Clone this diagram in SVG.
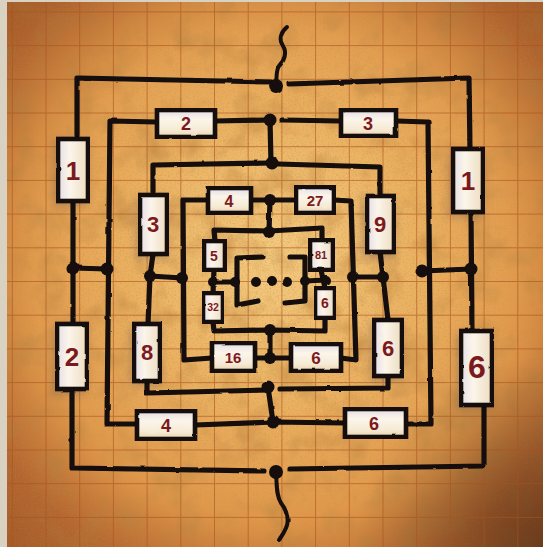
<svg xmlns="http://www.w3.org/2000/svg" width="543" height="547" viewBox="0 0 543 547">
<defs>
<radialGradient id="bg" cx="0.5" cy="0.47" r="0.62">
<stop offset="0" stop-color="#f3cb80"/>
<stop offset="0.45" stop-color="#eab060"/>
<stop offset="0.8" stop-color="#df9548"/>
<stop offset="1" stop-color="#c9773a"/>
</radialGradient>
<radialGradient id="edge" cx="0.5" cy="0.5" r="0.72">
<stop offset="0.62" stop-color="#6a2c0c" stop-opacity="0"/>
<stop offset="1" stop-color="#6a2c0c" stop-opacity="0.4"/>
</radialGradient>
<radialGradient id="br" cx="1" cy="1" r="0.35">
<stop offset="0" stop-color="#3a1e10" stop-opacity="0.55"/>
<stop offset="1" stop-color="#3a1e10" stop-opacity="0"/>
</radialGradient>
<linearGradient id="boxg" x1="0" y1="0" x2="0" y2="1">
<stop offset="0" stop-color="#e4dce4"/>
<stop offset="0.35" stop-color="#fbf5ea"/>
<stop offset="0.75" stop-color="#f6ead4"/>
<stop offset="1" stop-color="#e8d2b0"/>
</linearGradient>
<linearGradient id="boxgv" x1="0" y1="0" x2="1" y2="0">
<stop offset="0" stop-color="#e6dee6"/>
<stop offset="0.4" stop-color="#fbf5ea"/>
<stop offset="1" stop-color="#eedcc0"/>
</linearGradient>
<filter id="tex" x="0" y="0" width="100%" height="100%">
<feTurbulence type="fractalNoise" baseFrequency="0.03" numOctaves="4" seed="7"/>
<feColorMatrix type="matrix" values="0 0 0 0 0.55  0 0 0 0 0.26  0 0 0 0 0.06  0 0 0 1.8 -0.85"/>
</filter>
<filter id="speck" x="0" y="0" width="100%" height="100%">
<feTurbulence type="fractalNoise" baseFrequency="0.6" numOctaves="2" seed="2"/>
<feColorMatrix type="matrix" values="0 0 0 0 0.6  0 0 0 0 0.3  0 0 0 0 0.08  0 0 0 2.2 -1.05"/>
</filter>
<filter id="rough" x="-5%" y="-5%" width="110%" height="110%">
<feTurbulence type="fractalNoise" baseFrequency="0.08" numOctaves="2" seed="4" result="n"/>
<feDisplacementMap in="SourceGraphic" in2="n" scale="2.2" xChannelSelector="R" yChannelSelector="G"/>
</filter>
<filter id="shadow" x="-50%" y="-50%" width="200%" height="200%">
<feGaussianBlur stdDeviation="5"/>
</filter>
<style>
.grid{stroke:#a9531f;stroke-width:1;opacity:0.6}
.w{fill:none;stroke:#121010;stroke-width:5.2;stroke-linecap:round;stroke-linejoin:round}
.sq{fill:none;stroke:#121010;stroke-width:4;stroke-linecap:round}
.d{fill:#121010}
.box{fill:url(#boxg);stroke:#121010;stroke-width:4.6;stroke-linejoin:miter}
.boxv{fill:url(#boxgv);stroke:#121010;stroke-width:4.6;stroke-linejoin:miter}
.sh{fill:#5a5050;opacity:0.35;filter:url(#shadow)}
.t{font-family:"Liberation Sans","DejaVu Sans",sans-serif;font-weight:bold;fill:#7b1a1e;text-anchor:middle}
</style>
</defs>

<!-- background -->
<rect x="0" y="0" width="543" height="547" fill="#d9d2c3"/>
<rect x="7" y="2" width="536" height="545" fill="url(#bg)"/>
<rect x="7" y="2" width="536" height="545" filter="url(#tex)"/>
<rect x="7" y="2" width="536" height="545" filter="url(#speck)" opacity="0.6"/>
<rect x="7" y="2" width="536" height="545" fill="url(#edge)"/>
<rect x="7" y="2" width="536" height="545" fill="url(#br)"/>
<g class="grid">
<path d="M12.3 2V547M46 2V547M79.7 2V547M113.4 2V547M147.1 2V547M180.8 2V547M214.5 2V547M248.2 2V547M281.9 2V547M315.6 2V547M349.3 2V547M383 2V547M416.7 2V547M450.4 2V547M484.1 2V547M517.8 2V547"/>
<path d="M7 11.9H543M7 45.6H543M7 79.3H543M7 113H543M7 146.7H543M7 180.4H543M7 214.1H543M7 247.8H543M7 281.5H543M7 315.2H543M7 348.9H543M7 382.6H543M7 416.3H543M7 450H543M7 483.7H543M7 517.4H543"/>
</g>

<!-- box shadows -->
<g>
<rect class="sh" x="54" y="140" width="34" height="66"/>
<rect class="sh" x="53" y="326" width="34" height="68"/>
<rect class="sh" x="449" y="151" width="34" height="66"/>
<rect class="sh" x="457" y="333" width="35" height="76"/>
<rect class="sh" x="136" y="197" width="31" height="62"/>
<rect class="sh" x="130" y="326" width="30" height="60"/>
<rect class="sh" x="363" y="198" width="31" height="60"/>
<rect class="sh" x="370" y="322" width="32" height="60"/>
</g>

<!-- connectors -->
<g id="connectors" filter="url(#rough)">
<!-- outer loop -->
<path class="w" d="M77 135 L77 78 L271 82"/>
<path class="w" d="M289 84 L469 78 L470 150"/>
<path class="w" d="M73 201 L73 324"/>
<path class="w" d="M72 389 L72 468 L264 471"/>
<path class="w" d="M290 469 L484 466 L484 405"/>
<path class="w" d="M472 331 L471 212"/>
<path class="w" d="M73 268 L107 269"/>
<path class="w" d="M422 271 L471 269"/>
<path class="sq" d="M287 27 C280 33 279 40 283 46 C287 52 285 60 279 66 C276 70 277 76 276 84"/>
<path class="sq" d="M276 473 C277 485 276 495 281 503 C288 512 289 522 286 528 C284 533 281 537 279 540"/>
<!-- loop 2 -->
<path class="w" d="M157 122 L110 121 L107 424 L137 424"/>
<path class="w" d="M215 121 L270 120"/>
<path class="w" d="M282 120 L341 121"/>
<path class="w" d="M396 121 L428 122 L431 424 L406 424"/>
<path class="w" d="M345 423 L273 422 L195 425"/>
<!-- loop 3 -->
<path class="w" d="M153 195 L153 165 L270 163"/>
<path class="w" d="M278 164 L380 167 L380 196"/>
<path class="w" d="M153 254 L150 276 L148 324"/>
<path class="w" d="M147 381 L147 393 L268 390"/>
<path class="w" d="M280 389 L388 388 L388 376"/>
<path class="w" d="M380 252 L383 277 L388 320"/>
<path class="w" d="M150 276 L182 278"/>
<path class="w" d="M270 120 L271 163"/>
<path class="w" d="M268 387 L273 422"/>
<!-- loop 4 -->
<path class="w" d="M208 200 L183 200 L184 360 L212 358"/>
<path class="w" d="M251 200 L270 200 L296 200"/>
<path class="w" d="M334 200 L351 201 L356 360 L341 358"/>
<path class="w" d="M291 358 L270 358 L255 358"/>
<path class="w" d="M270 200 L269 232"/>
<path class="w" d="M353 277 L383 277"/>
<path class="w" d="M270 330 L270 358"/>
<!-- loop 5 -->
<path class="w" d="M215 241 L214 230 L269 231 L322 228 L322 240"/>
<path class="w" d="M214 270 L213 293"/>
<path class="w" d="M213 322 L214 331 L270 330 L325 331 L325 318"/>
<path class="w" d="M321 270 L325 288"/>
<path class="w" d="M213 282 L237 282"/>
<path class="w" d="M263 257 L237 258 L237 305 L258 301"/>
<path class="w" d="M290 257 L305 257 L305 301 L285 303"/>
<path class="w" d="M305 281 L326 280"/>
<!-- junction dots -->
<circle class="d" cx="276" cy="86" r="7"/>
<circle class="d" cx="276" cy="472" r="7"/>
<circle class="d" cx="73" cy="268" r="6.5"/>
<circle class="d" cx="107" cy="269" r="6.5"/>
<circle class="d" cx="422" cy="271" r="6.5"/>
<circle class="d" cx="471" cy="269" r="6.5"/>
<circle class="d" cx="270" cy="120" r="6.5"/>
<circle class="d" cx="272" cy="163" r="6.5"/>
<circle class="d" cx="273" cy="422" r="6.5"/>
<circle class="d" cx="268" cy="387" r="6.5"/>
<circle class="d" cx="150" cy="276" r="6"/>
<circle class="d" cx="182" cy="278" r="6"/>
<circle class="d" cx="383" cy="277" r="6"/>
<circle class="d" cx="353" cy="277" r="6"/>
<circle class="d" cx="270" cy="200" r="6"/>
<circle class="d" cx="269" cy="232" r="6"/>
<circle class="d" cx="270" cy="330" r="6"/>
<circle class="d" cx="270" cy="358" r="6"/>
<circle class="d" cx="213" cy="282" r="5"/>
<circle class="d" cx="235" cy="282" r="5"/>
<circle class="d" cx="305" cy="281" r="5"/>
<circle class="d" cx="326" cy="280" r="5"/>
<circle class="d" cx="256" cy="282" r="5"/>
<circle class="d" cx="272" cy="281" r="5"/>
<circle class="d" cx="287" cy="282" r="5"/>
</g>

<!-- outer boxes -->
<g id="n_o1l"><rect class="boxv" x="58" y="139" width="30" height="62" filter="url(#rough)"/><text class="t" x="73" y="180" font-size="26">1</text></g>
<g id="n_o2l"><rect class="boxv" x="57" y="324" width="30" height="65" filter="url(#rough)"/><text class="t" x="72" y="366" font-size="26">2</text></g>
<g id="n_o1r"><rect class="boxv" x="453" y="149" width="30" height="63" filter="url(#rough)"/><text class="t" x="468" y="190" font-size="26">1</text></g>
<g id="n_o6r"><rect class="boxv" x="461" y="331" width="31" height="74" filter="url(#rough)"/><text class="t" x="477" y="378" font-size="32">6</text></g>
<!-- loop 2 boxes -->
<g id="n_l2_2"><rect class="box" x="157" y="110" width="58" height="27" filter="url(#rough)"/><text class="t" x="186" y="130" font-size="18">2</text></g>
<g id="n_l2_3"><rect class="box" x="341" y="110" width="55" height="26" filter="url(#rough)"/><text class="t" x="368" y="130" font-size="18">3</text></g>
<g id="n_l2_4"><rect class="box" x="137" y="411" width="58" height="28" filter="url(#rough)"/><text class="t" x="166" y="432" font-size="18">4</text></g>
<g id="n_l2_6"><rect class="box" x="345" y="409" width="61" height="28" filter="url(#rough)"/><text class="t" x="374" y="430" font-size="18">6</text></g>
<!-- loop 3 boxes -->
<g id="n_l3_3"><rect class="boxv" x="140" y="195" width="27" height="59" filter="url(#rough)"/><text class="t" x="153" y="232" font-size="22">3</text></g>
<g id="n_l3_9"><rect class="boxv" x="367" y="196" width="27" height="56" filter="url(#rough)"/><text class="t" x="380" y="232" font-size="22">9</text></g>
<g id="n_l3_8"><rect class="boxv" x="134" y="324" width="26" height="57" filter="url(#rough)"/><text class="t" x="147" y="360" font-size="22">8</text></g>
<g id="n_l3_6"><rect class="boxv" x="374" y="320" width="28" height="56" filter="url(#rough)"/><text class="t" x="388" y="356" font-size="22">6</text></g>
<!-- loop 4 boxes -->
<g id="n_l4_4"><rect class="box" x="208" y="188" width="43" height="25" filter="url(#rough)"/><text class="t" x="229" y="207" font-size="16">4</text></g>
<g id="n_l4_27"><rect class="box" x="296" y="187" width="38" height="26" filter="url(#rough)"/><text class="t" x="315" y="206" font-size="15">27</text></g>
<g id="n_l4_16"><rect class="box" x="212" y="343" width="43" height="28" filter="url(#rough)"/><text class="t" x="233" y="363" font-size="15">16</text></g>
<g id="n_l4_6"><rect class="box" x="291" y="344" width="50" height="27" filter="url(#rough)"/><text class="t" x="316" y="364" font-size="17">6</text></g>
<!-- loop 5 boxes -->
<g id="n_l5_5"><rect class="boxv" x="204" y="241" width="21" height="29" filter="url(#rough)"/><text class="t" x="214" y="261" font-size="14">5</text></g>
<g id="n_l5_81"><rect class="boxv" x="310" y="240" width="23" height="30" filter="url(#rough)"/><text class="t" x="321" y="259" font-size="11">81</text></g>
<g id="n_l5_32"><rect class="boxv" x="203" y="293" width="20" height="29" filter="url(#rough)"/><text class="t" x="213" y="311" font-size="10.5">32</text></g>
<g id="n_l5_6"><rect class="boxv" x="315" y="288" width="20" height="30" filter="url(#rough)"/><text class="t" x="325" y="308" font-size="14">6</text></g>
</svg>
